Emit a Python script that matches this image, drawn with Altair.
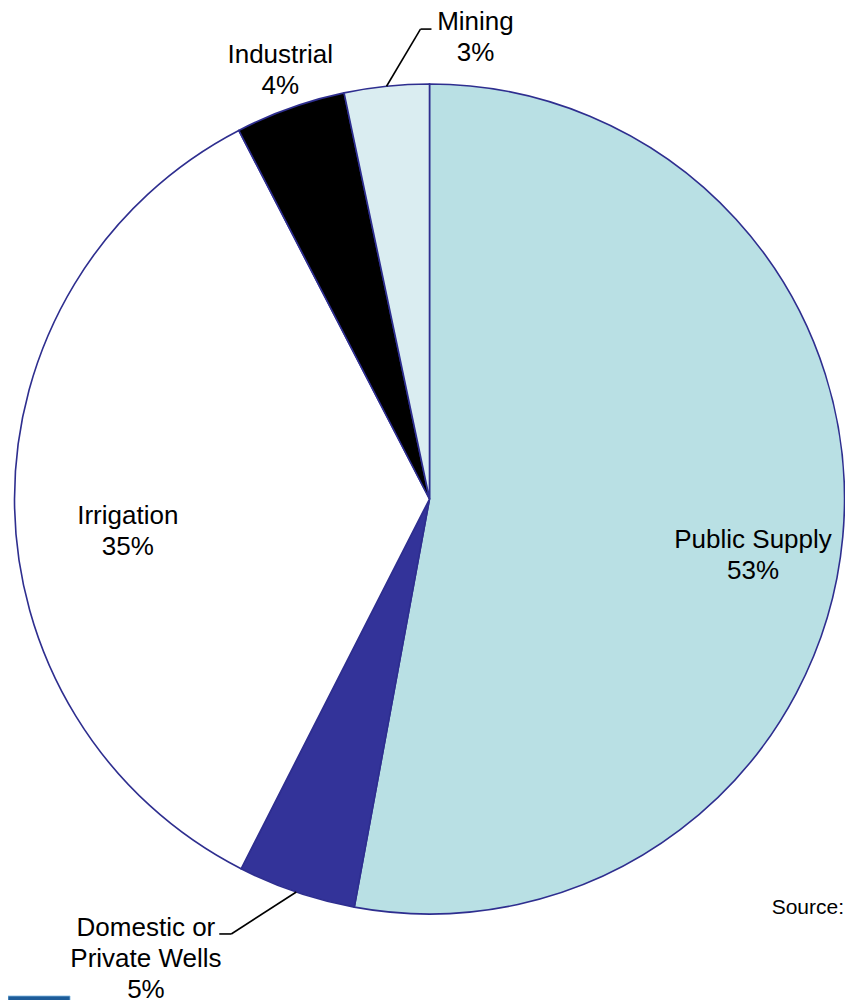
import math
import altair as alt
import pandas as pd

# ---- data ----
categories = ["Public Supply", "Domestic or\nPrivate Wells", "Irrigation", "Industrial", "Mining"]
values = [52.9, 4.6, 34.9, 4.3, 3.3]
pct_labels = ["53%", "5%", "35%", "4%", "3%"]
colors = ["#B9E0E4", "#333399", "#FFFFFF", "#000000", "#DAEDF1"]

# ---- layout (polar positions of label blocks relative to pie centre) ----
W, H = 837, 992
CX, CY, R = 421.5, 491, 415
LINE_H = 31
label_angle = [100.0, 211.8, 263.8, 340.6, 5.5]
label_radius = [327, 541, 305, 454, 464]
# leader lines: (elbow angle, elbow radius, horizontal tail)
leaders = {"Mining": (358.9, 470, 11), "Domestic or\nPrivate Wells": (204.5, 478, -12)}


def polar(angle_deg, r):
    a = math.radians(angle_deg)
    return CX + r * math.sin(a), CY - r * math.cos(a)


total = sum(values)
cum = 0
mids = []
for v in values:
    mids.append((cum + v / 2) / total * 360)
    cum += v

df = pd.DataFrame({
    "category": categories,
    "value": values,
    "order": list(range(len(values))),
    "label": [f"{c}\n{p}" for c, p in zip(categories, pct_labels)],
})
lx, ly = [], []
for lab, a, r in zip(df["label"], label_angle, label_radius):
    x, y = polar(a, r)
    n = lab.count("\n") + 1
    lx.append(x + 1.5)
    ly.append(y - (n - 1) * LINE_H / 2)
df["lx"] = lx
df["ly"] = ly

rows = []
for i, c in enumerate(categories):
    if c in leaders:
        ea, er, tail = leaders[c]
        sx, sy = polar(mids[i], R)
        ex, ey = polar(ea, er)
        rows.append({"x": sx, "y": sy, "x2": ex, "y2": ey})
        rows.append({"x": ex, "y": ey, "x2": ex + tail, "y2": ey})
lead_df = pd.DataFrame(rows)

pie = alt.Chart(df).mark_arc(radius=R, stroke="#2E2E8F", strokeWidth=1.6).encode(
    theta=alt.Theta("value:Q", stack=True),
    order=alt.Order("order:Q"),
    color=alt.Color("category:N", scale=alt.Scale(domain=categories, range=colors), legend=None),
    x=alt.value(CX),
    y=alt.value(CY),
)

labels = alt.Chart(df).mark_text(
    font="Liberation Sans", fontSize=26, lineBreak="\n", lineHeight=LINE_H,
    align="center", baseline="middle", color="#000000",
).encode(
    x=alt.X("lx:Q", scale=None, axis=None),
    y=alt.Y("ly:Q", scale=None, axis=None),
    text="label:N",
)

lines = alt.Chart(lead_df).mark_rule(color="#000000", strokeWidth=1.6).encode(
    x=alt.X("x:Q", scale=None, axis=None),
    y=alt.Y("y:Q", scale=None, axis=None),
    x2="x2:Q",
    y2="y2:Q",
)

source = alt.Chart(pd.DataFrame({"t": ["Source:"]})).mark_text(
    font="Liberation Sans", fontSize=21, align="right", baseline="middle", color="#000000",
).encode(x=alt.value(836), y=alt.value(900), text="t:N")

# cropped blue footer bar at the bottom-left edge
bar = alt.Chart(pd.DataFrame({"k": [0]})).mark_rect(color="#1D5C99", stroke="#7FB6E0", strokeWidth=0.8).encode(
    x=alt.value(0), x2=alt.value(62), y=alt.value(988), y2=alt.value(993),
)

chart = alt.layer(pie, lines, labels, source, bar).properties(
    width=W, height=H, autosize=alt.AutoSizeParams(type="none"), padding=0,
).configure_view(stroke=None)

chart.save("out.html", embed_options={"renderer": "svg", "actions": False})
